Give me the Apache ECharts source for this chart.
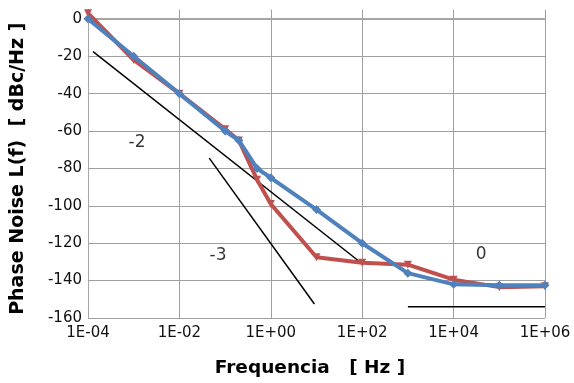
<!DOCTYPE html>
<html>
<head>
<meta charset="utf-8">
<script src="https://cdn.jsdelivr.net/npm/echarts@6/dist/echarts.min.js"></script>
<style>html,body{margin:0;padding:0;background:#fff}#c{width:574px;height:383px}</style>
</head>
<body>
<div id="c"></div>
<script>
// Frequencies (Hz)
const freqs = [1e-4, 1e-3, 1e-2, 0.1, 0.2, 0.5, 1, 10, 100, 1e3, 1e4, 1e5, 1e6];
// Phase noise values (dBc/Hz)
const redValues  = [3, -22, -40, -59, -65, -86, -99, -127.5, -130.5, -131.5, -139.5, -143.5, -143];
const blueValues = [0, -20, -40, -60, -65, -80, -85, -102, -120, -136, -142, -142.5, -142.5];
// Slope guide lines [freq, dBc/Hz]
const slopeMinus2 = [[1.29e-4, -17.5], [100, -131]];
const slopeMinus3 = [[0.045, -74.5], [9, -152.5]];
const slopeZero   = [[1000, -154], [1e6, -154]];
// Slope labels [freq, dBc/Hz, text]
const slopeLabels = [[1.18e-3, -66.3, '-2'], [0.07, -126.8, '-3'], [4e4, -126.3, '0']];
// Axis
const yTicks = [-160, -140, -120, -100, -80, -60, -40, -20, 0];

const pair = (xs, ys) => xs.map((x, i) => [x, ys[i]]);
const fmtExp = v => {
  const e = Math.round(Math.log10(v));
  return '1E' + (e < 0 ? '-' : '+') + String(Math.abs(e)).padStart(2, '0');
};
const FONT = 'DejaVu Sans';

const chart = echarts.init(document.getElementById('c'), null, {renderer: 'canvas'});
chart.setOption({
  animation: false,
  backgroundColor: '#fff',
  grid: {left: 88, right: 29, top: 9.5, bottom: 60, containLabel: false},
  xAxis: {
    type: 'log', logBase: 10, min: 1e-4, max: 1e6, interval: 2,
    name: 'Frequencia   [ Hz ]', nameLocation: 'middle', nameGap: 41,
    nameTextStyle: {fontFamily: FONT, fontSize: 18.5, fontWeight: 'bold', color: '#000', padding: [0, 13, 0, 0]},
    axisLine: {show: true, lineStyle: {color: '#a6a6a6', width: 2}},
    axisTick: {show: false},
    axisLabel: {formatter: fmtExp, fontFamily: FONT, fontSize: 15, color: '#111', margin: 8},
    splitLine: {show: true, lineStyle: {color: '#a0a0a0', width: 1}},
    minorTick: {show: false}, minorSplitLine: {show: false}
  },
  yAxis: {
    type: 'value', min: -160, max: 5, interval: 20,
    name: 'Phase Noise L(f)  [ dBc/Hz ]', nameLocation: 'middle', nameGap: 60, nameRotate: 90,
    nameTextStyle: {fontFamily: FONT, fontSize: 19, fontWeight: 'bold', color: '#000', padding: [0, 10, 0, 0]},
    axisLine: {show: true, lineStyle: {color: '#a6a6a6', width: 1}},
    axisTick: {show: false},
    axisLabel: {
      formatter: v => (yTicks.indexOf(v) >= 0 ? String(v) : ''),
      fontFamily: FONT, fontSize: 15, color: '#111', margin: 6
    },
    splitLine: {show: true, showMaxLine: false, lineStyle: {color: '#a0a0a0', width: 1}}
  },
  series: [
    {type: 'line', data: slopeMinus2, symbol: 'none', clip: false, lineStyle: {color: '#000', width: 1.5}, z: 3},
    {type: 'line', data: slopeMinus3, symbol: 'none', clip: false, lineStyle: {color: '#000', width: 1.5}, z: 3},
    {type: 'line', data: slopeZero, symbol: 'none', clip: false, lineStyle: {color: '#000', width: 1.5}, z: 3},
    {
      name: 'red', type: 'line', data: pair(freqs, redValues), clip: false,
      symbol: 'triangle', symbolRotate: 180, symbolSize: 8, showAllSymbol: true,
      lineStyle: {color: '#c0504d', width: 4}, itemStyle: {color: '#c0504d'}, z: 4
    },
    {
      name: 'blue', type: 'line', data: pair(freqs, blueValues), clip: false,
      symbol: 'diamond', symbolSize: 9, showAllSymbol: true,
      lineStyle: {color: '#4f81bd', width: 4}, itemStyle: {color: '#4f81bd'}, z: 5
    },
    {
      type: 'scatter', data: slopeLabels.map(d => ({value: [d[0], d[1]], label: {formatter: d[2]}})),
      symbolSize: 0, silent: true,
      label: {show: true, position: 'inside', fontFamily: FONT, fontSize: 17, color: '#000'}, z: 6
    }
  ]
});
</script>
</body>
</html>
